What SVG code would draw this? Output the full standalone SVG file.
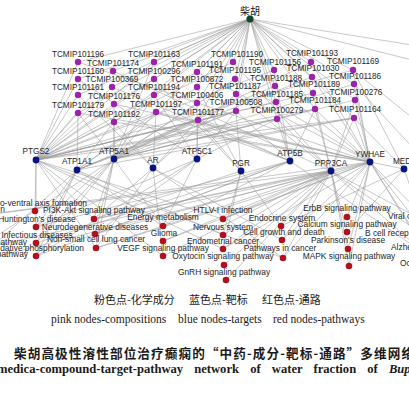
<svg xmlns="http://www.w3.org/2000/svg" width="409" height="409" viewBox="0 0 409 409">
<style>
.bg{fill:#fff}
.e path{stroke:#9a9a9a;stroke-width:0.55;fill:none}
.c{fill:#9c22aa}
.t{fill:#0b1582}
.p{fill:#b0111c}
.r{fill:#0c4a2a}
.l{font-family:"Liberation Sans",Arial,sans-serif;font-size:8.2px;fill:#262626;text-anchor:middle}
.pl{font-size:8.4px}
.le{text-anchor:end}
.ls{text-anchor:start}
.cjk{font-family:"Noto Sans CJK SC",sans-serif;fill:#1a1a1a}
.en{font-family:"Liberation Serif","Times New Roman",serif;fill:#1a1a1a}
</style>
<rect class="bg" width="409" height="409"/>
<g id="connectors" class="e">
<path d="M250 19L78 62M250 19L78 79M250 19L78 95M250 19L78 113M250 19L113 71M250 19L112 87M250 19L114 104M250 19L114 122M250 19L154 62M250 19L154 79M250 19L154 95M250 19L156 112M250 19L197 72M250 19L197 87M250 19L197 103M250 19L198 120M250 19L233 62M250 19L235 79M250 19L236 94M250 19L236 111M250 19L274 70M250 19L275 86M250 19L276 102M250 19L277 119M250 19L311 62M250 19L312 77M250 19L313 93M250 19L315 109M250 19L353 70M250 19L354 84M250 19L355 100M250 19L354 118M250 19L412 45M250 19L412 60"/>
<path d="M78 62L36 160M78 62L370 162M78 79L36 160M78 79L197 159M78 95L36 160M78 95L153 168M78 113L36 160M78 113L77 170M78 113L114 159M78 113L370 162M113 71L331 171M113 71L36 160M112 87L290 161M112 87L36 160M114 104L36 160M114 104L114 159M114 104L370 162M114 122L36 160M114 122L77 170M114 122L114 159M114 122L153 168M114 122L370 162M154 62L36 160M154 62L114 159M154 79L241 171M154 79L36 160M154 95L114 159M154 95L197 159M156 112L36 160M156 112L77 170M156 112L114 159M156 112L153 168M156 112L290 161M156 112L370 162M197 72L36 160M197 72L370 162M197 87L241 171M197 87L77 170M197 103L114 159M197 103L197 159M198 120L36 160M198 120L77 170M198 120L114 159M198 120L153 168M198 120L197 159M198 120L241 171M198 120L290 161M198 120L370 162M233 62L36 160M233 62L331 171M235 79L114 159M235 79L370 162M236 94L153 168M236 94L331 171M236 111L36 160M236 111L77 170M236 111L114 159M236 111L197 159M236 111L241 171M236 111L290 161M274 70L36 160M274 70L290 161M275 86L77 170M275 86L370 162M276 102L290 161M276 102L36 160M277 119L36 160M277 119L114 159M277 119L197 159M277 119L290 161M277 119L331 171M311 62L114 159M311 62L370 162M312 77L370 162M312 77L77 170M313 93L331 171M313 93L36 160M315 109L36 160M315 109L114 159M315 109L290 161M315 109L331 171M315 109L370 162M353 70L370 162M353 70L404 169M353 70L36 160M354 84L370 162M354 84L114 159M355 100L114 159M355 100L331 171M355 100L370 162M354 118L36 160M354 118L114 159M354 118L331 171M354 118L370 162M354 118L404 169M354 118L77 170M354 84L415 150M353 70L415 120"/>
<path d="M36 160L35 211M36 160L36 227M36 160L94 219M36 160L96 248M36 160L223 219M36 160L283 258M36 160L163 256M36 160L223 249M77 170L36 227M77 170L36 243M77 170L36 256M77 170L163 226M77 170L223 235M114 159L94 219M114 159L95 234M114 159L96 248M114 159L36 256M114 159L36 227M114 159L163 226M114 159L36 243M153 168L94 219M153 168L96 248M153 168L163 256M153 168L283 258M153 168L282 240M197 159L163 226M197 159L36 256M197 159L95 234M197 159L36 227M241 171L223 235M241 171L223 249M241 171L281 226M241 171L94 219M290 161L163 226M290 161L36 256M290 161L95 234M290 161L36 227M290 161L36 243M331 171L223 219M331 171L223 235M331 171L224 265M331 171L281 226M331 171L282 240M331 171L283 258M331 171L347 232M331 171L348 249M331 171L349 266M331 171L163 241M331 171L163 256M331 171L94 219M331 171L95 234M331 171L96 248M331 171L226 280M331 171L223 249M331 171L-30 217M370 162L347 217M370 162L349 266M370 162L283 258M370 162L282 240M370 162L94 219M370 162L96 248M370 162L163 241M370 162L223 249M370 162L348 249M370 162L223 219M370 162L432 225M370 162L432 241M370 162L428 256M404 169L281 226M404 169L347 232M404 169L440 272M370 162L404 169M-30 217L370 162M-25 250L114 159M-25 250L331 171M-25 262L77 170M-25 262L370 162M432 225L331 171M432 241L331 171M428 256L331 171M428 256L290 161M440 272L370 162"/>
</g>
<g id="n-root"><circle class="r" cx="250" cy="19" r="3.6"/><text class="cjk" x="250" y="14.5" font-size="10" text-anchor="middle">柴胡</text></g>
<g id="c1"><circle class="c" cx="78" cy="62" r="3.2"/><text class="l" x="78" y="56.5">TCMIP101196</text></g>
<g id="c2"><circle class="c" cx="78" cy="79" r="3.2"/><text class="l" x="78" y="73.5">TCMIP101160</text></g>
<g id="c3"><circle class="c" cx="78" cy="95" r="3.2"/><text class="l" x="78" y="89.5">TCMIP101161</text></g>
<g id="c4"><circle class="c" cx="78" cy="113" r="3.2"/><text class="l" x="78" y="107.5">TCMIP101179</text></g>
<g id="c5"><circle class="c" cx="113" cy="71" r="3.2"/><text class="l" x="113" y="65.5">TCMIP101174</text></g>
<g id="c6"><circle class="c" cx="112" cy="87" r="3.2"/><text class="l" x="112" y="81.5">TCMIP100369</text></g>
<g id="c7"><circle class="c" cx="114" cy="104" r="3.2"/><text class="l" x="114" y="98.5">TCMIP101176</text></g>
<g id="c8"><circle class="c" cx="114" cy="122" r="3.2"/><text class="l" x="114" y="116.5">TCMIP101192</text></g>
<g id="c9"><circle class="c" cx="154" cy="62" r="3.2"/><text class="l" x="154" y="56.5">TCMIP101163</text></g>
<g id="c10"><circle class="c" cx="154" cy="79" r="3.2"/><text class="l" x="154" y="73.5">TCMIP100296</text></g>
<g id="c11"><circle class="c" cx="154" cy="95" r="3.2"/><text class="l" x="154" y="89.5">TCMIP101194</text></g>
<g id="c12"><circle class="c" cx="156" cy="112" r="3.2"/><text class="l" x="156" y="106.5">TCMIP101197</text></g>
<g id="c13"><circle class="c" cx="197" cy="72" r="3.2"/><text class="l" x="197" y="66.5">TCMIP101191</text></g>
<g id="c14"><circle class="c" cx="197" cy="87" r="3.2"/><text class="l" x="197" y="81.5">TCMIP100872</text></g>
<g id="c15"><circle class="c" cx="197" cy="103" r="3.2"/><text class="l" x="197" y="97.5">TCMIP100406</text></g>
<g id="c16"><circle class="c" cx="198" cy="120" r="3.2"/><text class="l" x="198" y="114.5">TCMIP101177</text></g>
<g id="c17"><circle class="c" cx="233" cy="62" r="3.2"/><text class="l" x="237" y="56.5">TCMIP101190</text></g>
<g id="c18"><circle class="c" cx="235" cy="79" r="3.2"/><text class="l" x="235" y="73">TCMIP101195</text></g>
<g id="c19"><circle class="c" cx="236" cy="94" r="3.2"/><text class="l" x="235" y="88.5">TCMIP101187</text></g>
<g id="c20"><circle class="c" cx="236" cy="111" r="3.2"/><text class="l" x="236" y="105">TCMIP100508</text></g>
<g id="c21"><circle class="c" cx="274" cy="70" r="3.2"/><text class="l" x="275" y="64.5">TCMIP101156</text></g>
<g id="c22"><circle class="c" cx="275" cy="86" r="3.2"/><text class="l" x="276" y="80.5">TCMIP101188</text></g>
<g id="c23"><circle class="c" cx="276" cy="102" r="3.2"/><text class="l" x="277" y="96.5">TCMIP101185</text></g>
<g id="c24"><circle class="c" cx="277" cy="119" r="3.2"/><text class="l" x="277" y="113">TCMIP100279</text></g>
<g id="c25"><circle class="c" cx="311" cy="62" r="3.2"/><text class="l" x="312" y="56">TCMIP101193</text></g>
<g id="c26"><circle class="c" cx="312" cy="77" r="3.2"/><text class="l" x="313" y="71">TCMIP101030</text></g>
<g id="c27"><circle class="c" cx="313" cy="93" r="3.2"/><text class="l" x="314" y="87">TCMIP101189</text></g>
<g id="c28"><circle class="c" cx="315" cy="109" r="3.2"/><text class="l" x="315" y="103">TCMIP101184</text></g>
<g id="c29"><circle class="c" cx="353" cy="70" r="3.2"/><text class="l" x="353" y="64">TCMIP101169</text></g>
<g id="c30"><circle class="c" cx="354" cy="84" r="3.2"/><text class="l" x="355" y="79">TCMIP101186</text></g>
<g id="c31"><circle class="c" cx="355" cy="100" r="3.2"/><text class="l" x="356" y="95">TCMIP100276</text></g>
<g id="c32"><circle class="c" cx="354" cy="118" r="3.2"/><text class="l" x="355" y="112">TCMIP101164</text></g>
<g id="t-PTGS2"><circle class="t" cx="36" cy="160" r="3.4"/><text class="l" x="36" y="154">PTGS2</text></g>
<g id="t-ATP1A1"><circle class="t" cx="77" cy="170" r="3.4"/><text class="l" x="77" y="164">ATP1A1</text></g>
<g id="t-ATP5A1"><circle class="t" cx="114" cy="159" r="3.4"/><text class="l" x="114" y="153.5">ATP5A1</text></g>
<g id="t-AR"><circle class="t" cx="153" cy="168" r="3.4"/><text class="l" x="153" y="163">AR</text></g>
<g id="t-ATP5C1"><circle class="t" cx="197" cy="159" r="3.4"/><text class="l" x="197" y="154">ATP5C1</text></g>
<g id="t-PGR"><circle class="t" cx="241" cy="171" r="3.4"/><text class="l" x="241" y="165.5">PGR</text></g>
<g id="t-ATP5B"><circle class="t" cx="290" cy="161" r="3.4"/><text class="l" x="290" y="155.5">ATP5B</text></g>
<g id="t-PPP3CA"><circle class="t" cx="331" cy="171" r="3.4"/><text class="l" x="331" y="165.5">PPP3CA</text></g>
<g id="t-YWHAE"><circle class="t" cx="370" cy="162" r="3.4"/><text class="l" x="370" y="156.5">YWHAE</text></g>
<g id="t-MED"><circle class="t" cx="404" cy="169" r="3.4"/><text class="l ls" x="393" y="163.5">MED</text></g>
<g id="p1"><circle class="p" cx="35" cy="211" r="3.3"/><text class="l pl le" x="87" y="205.5">o-ventral axis formation</text></g>
<g id="p2"><circle class="p" cx="94" cy="219" r="3.3"/><text class="l pl" x="94" y="213">PI3K-Akt signaling pathway</text></g>
<g id="p3"><circle class="p" cx="36" cy="227" r="3.3"/><text class="l pl" x="37" y="221.5">Huntington's disease</text></g>
<g id="p4"><circle class="p" cx="95" cy="234" r="3.3"/><text class="l pl" x="95" y="229.5">Neurodegenerative diseases</text></g>
<g id="p5"><circle class="p" cx="36" cy="243" r="3.3"/><text class="l pl" x="37" y="237.5">Infectious diseases</text></g>
<g id="p6"><circle class="p" cx="96" cy="248" r="3.3"/><text class="l pl" x="96" y="242">Non-small cell lung cancer</text></g>
<g id="p7"><circle class="p" cx="36" cy="256" r="3.3"/><text class="l pl le" x="84" y="250.5">dative phosphorylation</text></g>
<g id="p8"><circle class="p" cx="163" cy="226" r="3.3"/><text class="l pl" x="163" y="220">Energy metabolism</text></g>
<g id="p9"><circle class="p" cx="163" cy="241" r="3.3"/><text class="l pl" x="164" y="235.5">Glioma</text></g>
<g id="p10"><circle class="p" cx="163" cy="256" r="3.3"/><text class="l pl" x="163" y="250.5">VEGF signaling pathway</text></g>
<g id="p11"><circle class="p" cx="223" cy="219" r="3.3"/><text class="l pl" x="223" y="213">HTLV-I infection</text></g>
<g id="p12"><circle class="p" cx="223" cy="235" r="3.3"/><text class="l pl" x="223" y="229.5">Nervous system</text></g>
<g id="p13"><circle class="p" cx="223" cy="249" r="3.3"/><text class="l pl" x="223" y="244">Endometrial cancer</text></g>
<g id="p14"><circle class="p" cx="224" cy="265" r="3.3"/><text class="l pl" x="223" y="258.5">Oxytocin signaling pathway</text></g>
<g id="p15"><circle class="p" cx="226" cy="280" r="3.3"/><text class="l pl" x="224" y="275">GnRH signaling pathway</text></g>
<g id="p16"><circle class="p" cx="281" cy="226" r="3.3"/><text class="l pl" x="282" y="221">Endocrine system</text></g>
<g id="p17"><circle class="p" cx="282" cy="240" r="3.3"/><text class="l pl" x="284" y="235">Cell growth and death</text></g>
<g id="p18"><circle class="p" cx="283" cy="258" r="3.3"/><text class="l pl" x="280" y="251">Pathways in cancer</text></g>
<g id="p19"><circle class="p" cx="347" cy="217" r="3.3"/><text class="l pl" x="347" y="211">ErbB signaling pathway</text></g>
<g id="p20"><circle class="p" cx="347" cy="232" r="3.3"/><text class="l pl" x="347" y="227">Calcium signaling pathway</text></g>
<g id="p21"><circle class="p" cx="348" cy="249" r="3.3"/><text class="l pl" x="348" y="243">Parkinson's disease</text></g>
<g id="p22"><circle class="p" cx="349" cy="266" r="3.3"/><text class="l pl" x="349" y="259">MAPK signaling pathway</text></g>
<g id="edge-labels">
<text class="l pl le" x="5" y="212">n</text>
<text class="l pl le" x="27" y="245">pathway</text>
<text class="l pl le" x="28" y="257">pathway</text>
<text class="l pl ls" x="388" y="219">Viral c</text>
<text class="l pl ls" x="365" y="236">B cell recep</text>
<text class="l pl ls" x="391" y="250">Alzhe</text>
<text class="l pl ls" x="400" y="266">Oc</text>
</g>
<g id="legend">
<text class="cjk" font-size="11" y="303.5"><tspan x="94">粉色点-化学成分</tspan><tspan x="189">蓝色点-靶标</tspan><tspan x="262">红色点-通路</tspan></text>
<text class="en" font-size="11.5" y="323"><tspan x="51">pink nodes-compositions</tspan><tspan x="178">blue nodes-targets</tspan><tspan x="273">red nodes-pathways</tspan></text>
</g>
<g id="caption">
<text class="cjk" font-size="12.6" font-weight="bold" x="14" y="357.5" textLength="400" lengthAdjust="spacing">柴胡高极性溶性部位治疗癫痫的“中药-成分-靶标-通路”多维网络</text>
<text class="en" font-size="12.6" font-weight="bold" x="-3" y="372.5" word-spacing="8">medica-compound-target-pathway network of water fraction of <tspan font-style="italic">Bup</tspan></text>
</g>
</svg>
